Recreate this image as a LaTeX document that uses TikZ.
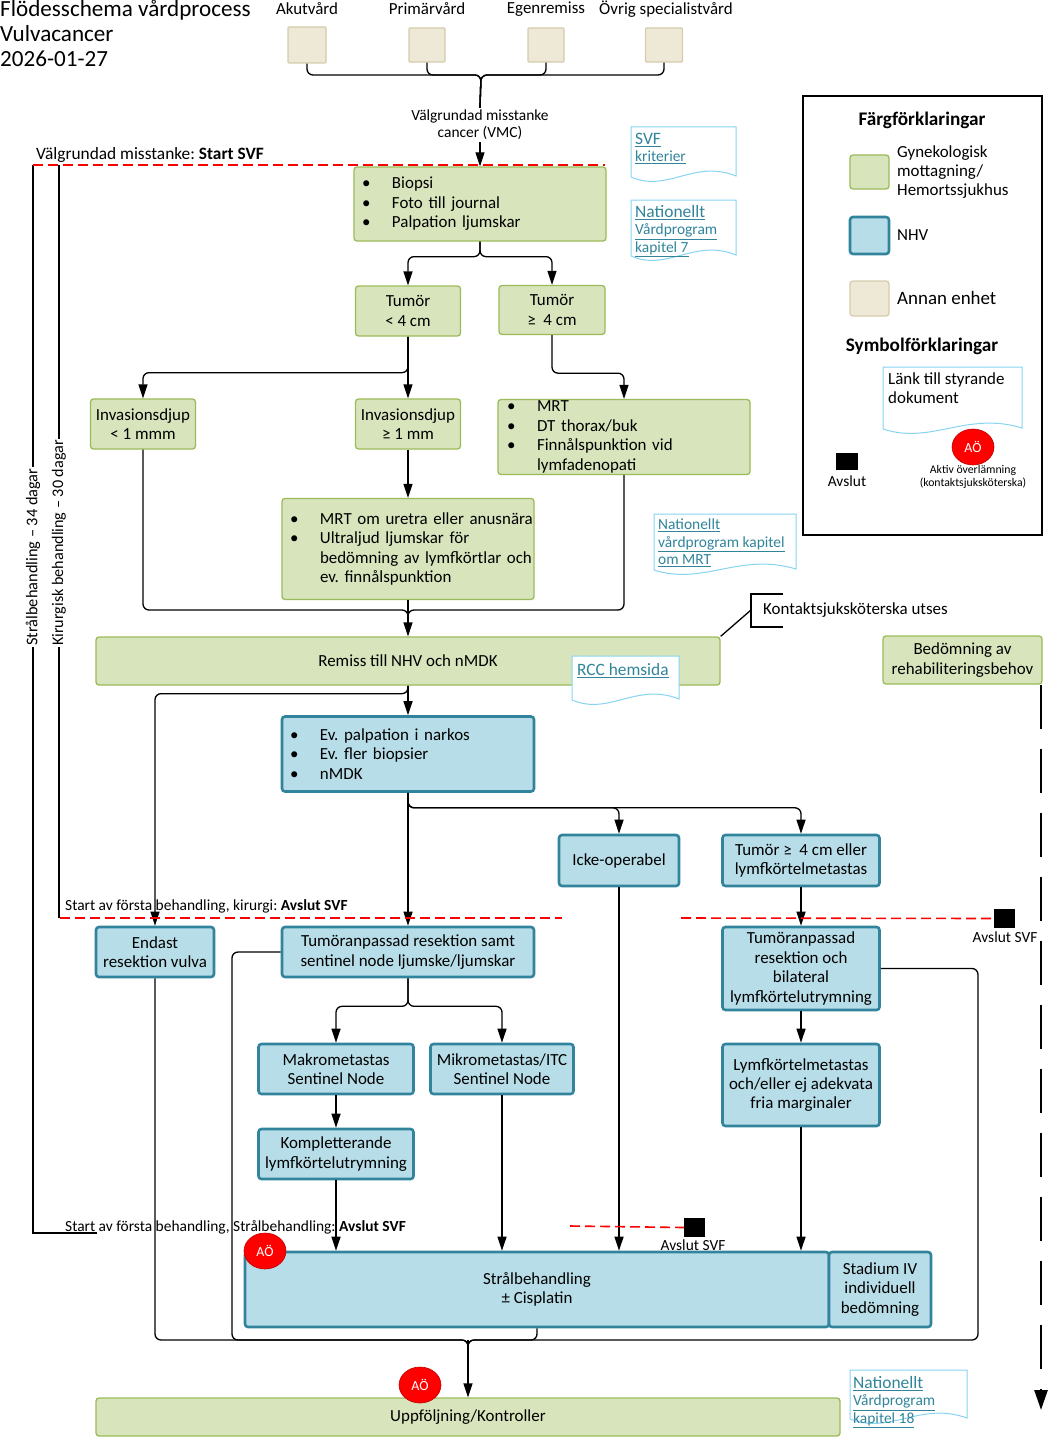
\documentclass[tikz,border=0pt]{standalone}
\usepackage{fontspec}
\setmainfont{Carlito}
\usepackage{tikz}
\usetikzlibrary{arrows.meta, positioning, shapes.geometric}

\definecolor{gfill}{RGB}{216,228,188}
\definecolor{gline}{RGB}{155,187,89}
\definecolor{bfill}{RGB}{183,221,232}
\definecolor{bline}{RGB}{49,132,155}
\definecolor{efill}{RGB}{238,232,214}
\definecolor{eline}{RGB}{212,204,172}
\definecolor{doccol}{RGB}{135,212,242}
\definecolor{lnkcol}{RGB}{49,133,155}
\definecolor{aodark}{RGB}{192,0,0}

\newcommand{\fsz}[2]{\fontsize{#1}{#2}\selectfont}
\newcommand{\bul}[1]{\makebox[30bp][l]{\textbullet}\mbox{#1}}
\newcommand{\bulc}[1]{\hspace*{30bp}\mbox{#1}}
% document symbol: x, y, width, height
\newcommand{\docshape}[4]{%
  \filldraw[docline] (#1,{#2+#4-6}) -- (#1,#2) -- ({#1+#3},#2) -- ({#1+#3},{#2+#4-7})
    .. controls ({#1+0.6*#3},{#2+#4-24}) and ({#1+0.35*#3},{#2+#4+10}) .. (#1,{#2+#4-6}) -- cycle;}

\tikzset{
  txt/.style={font=\fsz{17}{19.5}, inner sep=0pt, align=center},
  sml/.style={font=\fsz{15.5}{17.5}, inner sep=0pt, align=center},
  sz/.style 2 args={minimum width=#1bp, minimum height=#2bp},
  gbox/.style={txt, draw=gline, fill=gfill, line width=1.3bp, rounded corners=3bp},
  bbox/.style={txt, draw=bline, fill=bfill, line width=2.6bp, rounded corners=3bp},
  ebox/.style={draw=eline, fill=efill, line width=1.3bp, rounded corners=1bp},
  blist/.style={align=left, text width=#1bp},
  conn/.style={line width=1.3bp, rounded corners=6bp},
  arr/.style={conn, -{Triangle[length=14bp,width=9bp]}},
  svfline/.style={draw=red, line width=1.6bp, dash pattern=on 10bp off 5bp},
  aoe/.style={ellipse, fill=red, draw=aodark, line width=0.6bp, minimum width=42bp,
    minimum height=36bp, inner sep=0pt, text=white, font=\fsz{14}{16}},
  stopsq/.style={fill=black, inner sep=0pt, minimum width=21bp, minimum height=19bp},
  lnk/.style={sml, align=left, text=lnkcol, anchor=north west},
  docline/.style={draw=doccol, fill=white, line width=1bp},
}

\begin{document}
\frenchspacing
\begin{tikzpicture}[x=1bp, y=-1bp]
\useasboundingbox (0,0) rectangle (1049,1437);

% title and referring units
\node[anchor=north west, align=left, inner sep=0pt, font=\fsz{23.2}{25}] (title) at (0,0)
  {Flödesschema vårdprocess\\Vulvacancer\\2026-01-27};
\node[txt] (akutt) at (307,9) {Akutvård};
\node[txt] (primt) at (427,9) {Primärvård};
\node[txt] (egent) at (546,9) {Egenremiss};
\node[txt] (ovrigt) at (666,9) {Övrig specialistvård};
\node[ebox, sz={38}{36}] (akut) at (307,45) {};
\node[ebox, sz={36}{34}] (prim) at (427,45) {};
\node[ebox, sz={36}{34}] (egen) at (546,45) {};
\node[ebox, sz={37}{34}] (ovrig) at (664,45) {};
\node[txt, font=\fsz{15.5}{17}, inner sep=2bp] (vmc) at (480,125) {Välgrundad misstanke\\cancer (VMC)};
\coordinate (jtop) at (481,75);
\foreach \s in {akut,prim,egen,ovrig}
  \draw[conn] (\s.south) |- (jtop) -- (vmc.north);

% SVF time lines
\draw[line width=1.3bp] (33,165) -- (33,1233) -- (97,1233);
\draw[line width=1.3bp] (59,165) -- (59,918);
\node[txt, font=\fsz{16.4}{18}, rotate=90, fill=white, inner sep=1bp] (stralt) at (33,557) {Strålbehandling – 34 dagar};
\node[txt, font=\fsz{16.2}{18}, rotate=90, fill=white, inner sep=1bp] (kirt) at (59,543) {Kirurgisk behandling – 30 dagar};
\draw[svfline] (33,165) -- (605,165);
\node[txt, font=\fsz{17.4}{19}, anchor=base west] (svfstart) at (36,160) {Välgrundad misstanke: \textbf{Start SVF}};

% green part
\node[gbox, sz={252}{74}, blist=236] (biopsi) at (480,204)
  {\bul{Biopsi}\\\bul{Foto till journal}\\\bul{Palpation ljumskar}};
\draw[arr] (vmc.south) -- (biopsi.north);
\node[gbox, sz={105}{50}] (tsmall) at (408,311) {Tumör\\< 4 cm};
\node[gbox, sz={106}{49}] (tlarge) at (552,310) {Tumör\\≥\ \ 4 cm};
\draw[arr] (biopsi.south) -- ++(0,15) -| (tsmall.north);
\draw[arr] (biopsi.south) -- ++(0,15) -| (tlarge.north);
\node[gbox, sz={105}{50}] (invsmall) at (143,424) {Invasionsdjup\\< 1 mmm};
\node[gbox, sz={105}{50}] (invlarge) at (408,424) {Invasionsdjup\\≥ 1 mm};
\node[gbox, sz={252}{75}, blist=234] (mrtbox) at (624,437)
  {\bul{MRT}\\\bul{DT thorax/buk}\\\bul{Finnålspunktion vid}\\\bulc{lymfadenopati}};
\draw[arr] (tsmall.south) -- (invlarge.north);
\draw[arr] (tsmall.south) -- ++(0,36) -| (invsmall.north);
\draw[arr] (tlarge.south) -- ++(0,38) -| (mrtbox.north);
\node[gbox, sz={252}{101}, blist=236] (mrtur) at (408,549)
  {\bul{MRT om uretra eller anusnära}\\\bul{Ultraljud ljumskar för}\\\bulc{bedömning av lymfkörtlar och}\\\bulc{ev.\ finnålspunktion}};
\draw[arr] (invlarge.south) -- (mrtur.north);
\node[gbox, sz={624}{48}] (remiss) at (408,661) {Remiss till NHV och nMDK};
\coordinate (jrem) at (408,610);
\draw[conn] (invsmall.south) |- (jrem) -- ++(0,10);
\draw[conn] (mrtbox.south) |- (jrem) -- ++(0,10);
\draw[arr] (mrtur.south) -- (remiss.north);
\node[gbox, sz={159}{48}] (rehab) at (962.5,660) {Bedömning av\\rehabiliteringsbehov};
\coordinate (rehabend) at (1041,1410);
\draw[line width=2.6bp, dash pattern=on 44bp off 20bp, -{Triangle[length=20bp,width=13bp]}]
  (rehab.south -| rehabend) -- (rehabend);

% contact nurse note
\node[txt, anchor=west] (kontakt) at (763,610) {Kontaktsjuksköterska utses};
\coordinate (brk) at (751,610);
\draw[line width=1.5bp] (783,594) -| (brk) |- (783,627);
\draw[line width=1.3bp] (brk) -- (remiss.north east);

% links
\docshape{631}{127}{105}{56}
\node[lnk] (svfdoc) at (635,133) {{\fsz{17.5}{17.5}\underline{SVF}}\\\underline{kriterier}};
\docshape{631}{200}{105}{62}
\node[lnk] (nat7) at (635,205) {{\fsz{17.5}{17.5}\underline{Nationellt}}\\\underline{Vårdprogram}\\\underline{kapitel 7}};
\docshape{654}{514}{142}{62}
\node[lnk] (natmrt) at (658,519) {\underline{Nationellt}\\\underline{vårdprogram kapitel}\\\underline{om MRT}};
\docshape{572}{656}{107}{50}
\node[lnk, font=\fsz{17.4}{17.5}] (rcc) at (577,663) {\underline{RCC hemsida}};

% NHV part
\node[bbox, sz={252}{75}, blist=236] (palp) at (408,754)
  {\bul{Ev.\ palpation i narkos}\\\bul{Ev.\ fler biopsier}\\\bul{nMDK}};
\node[bbox, sz={118}{50}] (endast) at (155,952) {Endast\\resektion vulva};
\draw[arr] (remiss.south) -- (palp.north);
\draw[arr] (remiss.south) -- ++(0,8) -| (endast.north);
\node[bbox, sz={120}{51}] (ickeop) at (619,860.5) {Icke-operabel};
\node[bbox, sz={157}{51}] (tumlymf) at (801,860.5) {Tumör ≥\ \ 4 cm eller\\lymfkörtelmetastas};
\node[bbox, sz={252}{50}] (tumsent) at (408,952) {Tumöranpassad resektion samt\\sentinel node ljumske/ljumskar};
\draw[arr] (palp.south) -- (tumsent.north);
\draw[arr] (palp.south) -- ++(0,15) -| (ickeop.north);
\draw[arr] (palp.south) -- ++(0,15) -| (tumlymf.north);
\node[bbox, sz={157}{83}] (tumbil) at (801,968.5) {Tumöranpassad\\resektion och\\bilateral\\lymfkörtelutrymning};
\node[bbox, sz={157}{82}] (lymfmarg) at (801,1085) {Lymfkörtelmetastas\\och/eller ej adekvata\\fria marginaler};
\draw[arr] (tumlymf.south) -- (tumbil.north);
\draw[arr] (tumbil.south) -- (lymfmarg.north);
\node[bbox, sz={155}{50}] (makro) at (336,1069) {Makrometastas\\Sentinel Node};
\node[bbox, sz={143}{50}] (mikro) at (502,1069) {Mikrometastas/ITC\\Sentinel Node};
\node[bbox, sz={155}{50}] (kompl) at (336,1154) {Kompletterande\\lymfkörtelutrymning};
\draw[arr] (tumsent.south) -- ++(0,28) -| (makro.north);
\draw[arr] (tumsent.south) -- ++(0,28) -| (mikro.north);
\draw[arr] (makro.south) -- (kompl.north);
\node[bbox, sz={584}{75}] (stral) at (537,1289.5) {Strålbehandling\\± Cisplatin};
\node[bbox, sz={102}{75}] (stad4) at (880,1289.5) {Stadium IV\\individuell\\bedömning};
\foreach \s in {kompl,mikro,ickeop,lymfmarg}
  \draw[arr] (\s.south) -- (\s.south |- stral.north);

% end of SVF
\draw[svfline] (60,918) -- (562,918);
\node[stopsq] (stopkir) at (1004,918.5) {};
\draw[svfline] (681,918) -- (stopkir.west);
\node[sml] (stopkirt) at (1005,937) {Avslut SVF};
\node[sml, anchor=base west] (kirstop) at (65,910) {Start av första behandling, kirurgi: \textbf{Avslut SVF}};
\node[stopsq] (stopstr) at (694.5,1227.5) {};
\draw[svfline] (570,1226) -- (stopstr.west);
\node[sml] (stopstrt) at (693,1245) {Avslut SVF};
\node[sml, anchor=base west] (strstop) at (65,1231) {Start av första behandling, Strålbehandling: \textbf{Avslut SVF}};
\node[aoe] (ao1) at (265,1251) {AÖ};

% follow-up
\node[gbox, sz={744}{38}] (uppf) at (468,1417) {Uppföljning/Kontroller};
\coordinate (jend) at (468,1340);
\draw[conn] (endast.south) |- (jend) -- ++(0,10);
\draw[conn] (tumsent.west) -| (232,1340) -- (jend) -- ++(0,10);
\draw[conn] (stral.south) |- (jend) -- ++(0,10);
\draw[conn] (tumbil.east) -| (978,1340) -- (jend) -- ++(0,10);
\draw[arr] (jend) -- (uppf.north);
\node[aoe] (ao2) at (420,1385) {AÖ};
\docshape{850}{1370}{117}{55}
\node[lnk] (nat18) at (853,1376) {{\fsz{17.5}{17.5}\underline{Nationellt}}\\\underline{Vårdprogram}\\\underline{kapitel 18}};

% legend
\node[draw, line width=1.8bp, inner sep=0pt, sz={239}{439}] (legend) at (922.5,315.5) {};
\node[txt, font=\bfseries\fsz{19.3}{22}] (fargt) at (922,120) {Färgförklaringar};
\node[gbox, sz={39}{34}] (lggreen) at (869.5,172) {};
\node[txt, anchor=west, align=left, font=\fsz{17}{19}] (lggreent) at (897,172) {Gynekologisk\\mottagning/\\Hemortssjukhus};
\node[bbox, sz={39}{37}] (lgblue) at (869.5,235.5) {};
\node[txt, anchor=west] (lgbluet) at (897,235) {NHV};
\node[ebox, rounded corners=3bp, sz={39}{35}] (lgbeige) at (869.5,298.5) {};
\node[txt, anchor=west, font=\fsz{19}{21}] (lgbeiget) at (897,298) {Annan enhet};
\node[txt, font=\bfseries\fsz{19.3}{22}] (symbt) at (922,346) {Symbolförklaringar};
\docshape{883}{367}{139}{68}
\node[txt, anchor=north west, align=left, font=\fsz{17}{19}] (lgdoc) at (888,373) {Länk till styrande\\dokument};
\node[aoe] (ao3) at (973,447) {AÖ};
\node[txt, font=\fsz{11.8}{13}] (ao3t) at (973,476.5) {Aktiv överlämning\\(kontaktsjuksköterska)};
\node[stopsq, sz={22}{17}] (lgstop) at (847,461.5) {};
\node[sml] (lgstopt) at (847,481) {Avslut};
\end{tikzpicture}
\end{document}
